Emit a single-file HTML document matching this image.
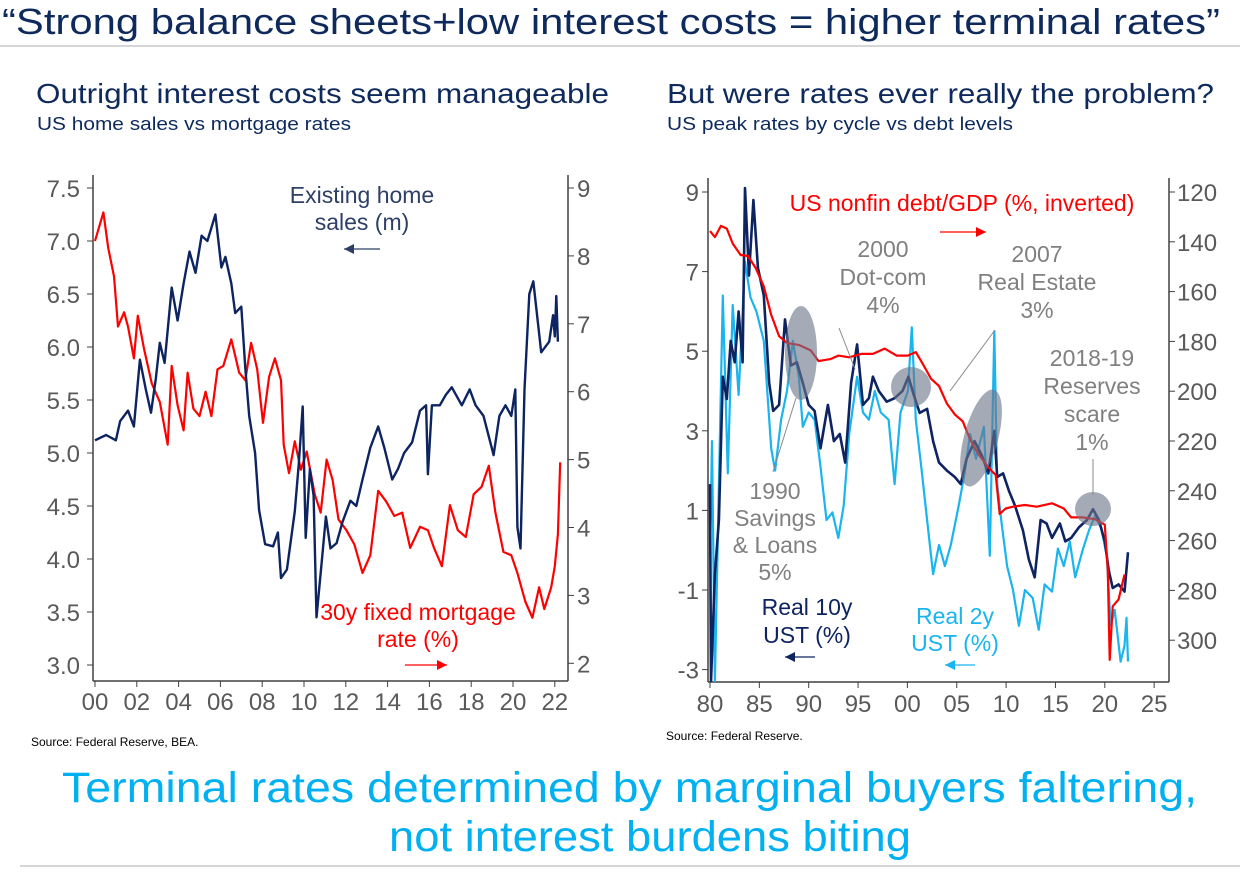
<!DOCTYPE html>
<html><head><meta charset="utf-8"><style>
body{margin:0;background:#fff;}
svg{display:block;font-family:"Liberation Sans",Arial,sans-serif;}
</style></head><body>
<svg id="s" width="1246" height="878" viewBox="0 0 1246 878">
<text x="2" y="34" font-size="36" fill="#0e2a5c" textLength="1218" lengthAdjust="spacingAndGlyphs">“Strong balance sheets+low interest costs = higher terminal rates”</text>
<line x1="0" y1="46" x2="1240" y2="46" stroke="#c8c8c8" stroke-width="1.5"/>
<text x="36" y="103" font-size="28" fill="#0e2a5c" textLength="573" lengthAdjust="spacingAndGlyphs">Outright interest costs seem manageable</text>
<text x="37" y="130" font-size="18" fill="#0e2a5c" textLength="314" lengthAdjust="spacingAndGlyphs">US home sales vs mortgage rates</text>
<text x="667" y="103" font-size="28" fill="#0e2a5c" textLength="547" lengthAdjust="spacingAndGlyphs">But were rates ever really the problem?</text>
<text x="667" y="130" font-size="18" fill="#0e2a5c" textLength="346" lengthAdjust="spacingAndGlyphs">US peak rates by cycle vs debt levels</text>
<text x="31" y="746" font-size="12" fill="#000">Source: Federal Reserve, BEA.</text>
<text x="666" y="740" font-size="12" fill="#000">Source: Federal Reserve.</text>
<text x="62" y="802" font-size="43" fill="#00b0f0" textLength="1135" lengthAdjust="spacingAndGlyphs">Terminal rates determined by marginal buyers faltering,</text>
<text x="389" y="851" font-size="43" fill="#00b0f0" textLength="522" lengthAdjust="spacingAndGlyphs">not interest burdens biting</text>
<line x1="20" y1="866" x2="1240" y2="866" stroke="#c8c8c8" stroke-width="1.5"/>
<g id="L"></g>
<g id="R"></g>
</svg>
<script>
// ---- Left chart data ----
const salesYears=[0,0.53,1,1.2,1.58,1.86,2.15,2.43,2.68,2.91,3.1,3.33,3.67,3.95,4.24,4.52,4.81,5.1,5.38,5.76,6.05,6.24,6.52,6.71,7,7.19,7.38,7.66,7.85,8.14,8.52,8.75,8.9,9.18,9.56,9.75,9.94,10.08,10.28,10.46,10.6,10.86,11.05,11.27,11.56,11.84,12.22,12.5,12.8,13.17,13.55,13.84,14.22,14.5,14.79,15.17,15.55,15.84,15.93,16.12,16.5,16.79,17.07,17.55,17.93,18.21,18.59,19.07,19.35,19.64,19.92,20.11,20.21,20.36,20.55,20.78,20.97,21.35,21.73,21.92,22,22.07,22.15];
const salesValues=[5.12,5.17,5.12,5.3,5.4,5.25,5.88,5.6,5.38,5.7,6.04,5.85,6.56,6.25,6.6,6.9,6.7,7.05,7.0,7.25,6.75,6.85,6.6,6.32,6.38,5.8,5.35,5.0,4.46,4.14,4.12,4.25,3.82,3.9,4.45,4.9,5.44,4.2,4.85,4.6,3.45,4.0,4.4,4.1,4.15,4.35,4.55,4.5,4.75,5.05,5.25,5.05,4.75,4.85,5.0,5.1,5.4,5.45,4.8,5.45,5.45,5.55,5.62,5.45,5.6,5.45,5.35,4.98,5.35,5.45,5.35,5.6,4.3,4.1,5.6,6.5,6.62,5.95,6.05,6.3,6.1,6.48,6.05];
const mortYears=[0,0.4,0.63,0.91,1.1,1.39,1.58,1.86,2.05,2.34,2.72,3.1,3.48,3.67,3.95,4.24,4.43,4.71,5,5.29,5.57,5.86,6.14,6.52,6.9,7.19,7.47,7.76,8.04,8.33,8.61,8.9,9.03,9.28,9.56,9.85,10.13,10.51,10.8,11.08,11.37,11.65,12.03,12.41,12.8,13.17,13.55,13.94,14.32,14.7,15.08,15.55,15.93,16.22,16.6,16.98,17.36,17.74,18.12,18.5,18.84,19.16,19.54,19.92,20.21,20.59,20.93,21.25,21.5,21.83,22,22.15,22.26];
const mortValues=[8.22,8.64,8.12,7.7,6.96,7.17,6.96,6.49,7.12,6.64,6.12,5.85,5.22,6.38,5.8,5.43,6.28,5.75,5.64,6.0,5.64,6.33,6.38,6.77,6.28,6.17,6.72,6.33,5.54,6.22,6.49,6.17,5.22,4.8,5.27,4.85,5.12,4.49,4.22,5.0,4.7,4.12,3.96,3.75,3.33,3.59,4.54,4.38,4.17,4.22,3.7,4.01,3.96,3.7,3.43,4.33,3.96,3.86,4.49,4.6,4.91,4.22,3.64,3.59,3.33,2.91,2.67,3.12,2.8,3.12,3.43,3.9,4.96];
const leftXTicks=["00","02","04","06","08","10","12","14","16","18","20","22"];
const leftYTicks=["7.5","7.0","6.5","6.0","5.5","5.0","4.5","4.0","3.5","3.0"];
const leftY2Ticks=["9","8","7","6","5","4","3","2"];
// ---- Right chart data ----
const r10Years=[80,80.1,80.5,80.9,81.3,81.7,82.1,82.5,82.9,83.3,83.55,83.95,84.4,84.85,85.45,86,86.4,87,87.6,88.2,88.8,89.4,90,90.6,91.2,91.95,92.55,93.15,93.7,94.3,94.9,95.5,96.1,96.5,97.1,97.9,98.7,99.5,100.1,100.65,101.25,102,102.6,103.2,104,104.8,105.4,106,106.8,107.55,108.2,108.8,109.1,109.7,110.3,110.9,111.7,112.3,112.9,113.5,114.1,114.65,115.45,116,116.6,117.4,118.2,118.8,119.4,120,120.4,120.8,121.4,122,122.35];
const r10Values=[1.66,-3.3,-0.6,0.76,4.36,3.8,5.26,4.72,6.0,4.72,9.1,6.9,8.8,7.1,6.4,4.2,3.5,3.65,5.8,4.64,4.72,4.2,3.65,3.5,2.56,3.65,2.74,2.92,2.2,4.2,5.17,3.65,3.82,4.36,4.0,3.73,3.82,4.0,4.36,3.9,3.45,3.55,2.74,2.2,2.0,1.84,1.66,2.3,2.74,2.38,1.93,3.0,1.84,1.93,1.48,1.12,0.5,-0.23,-0.68,0.76,0.67,0.31,0.67,0.22,0.31,0.58,0.76,1.03,0.76,0.22,-0.5,-0.95,-0.86,-1.04,-0.05];
const r2Years=[80,80.2,80.5,80.9,81.3,81.8,82.3,82.9,83.55,84.1,84.7,85.45,86.2,86.6,87.2,87.8,88.4,89,89.4,90,90.6,91.2,91.8,92.4,93,93.55,94.1,94.9,95.5,96.1,96.7,97.3,98.1,98.7,99.3,100.05,100.45,100.85,101.45,102,102.6,103.2,103.8,104.4,105.2,105.8,106.35,106.95,107.75,108.35,108.8,109.1,109.5,110.1,110.7,111.3,111.9,112.7,113.3,113.9,114.65,115.25,115.85,116.45,117,117.8,118.4,119,119.6,120.2,120.6,121,121.6,122,122.2,122.35];
const r2Values=[-0.14,2.74,-3.3,1.66,6.4,1.93,6.16,3.9,7.25,6.35,6.0,5.26,2.56,2.0,3.28,4.0,5.26,4.36,3.1,3.46,3.28,2.1,0.76,0.95,0.31,1.12,2.92,4.36,3.46,3.28,4.0,3.46,3.28,1.66,3.46,4.0,5.6,3.28,2.0,0.76,-0.6,0.13,-0.4,0.13,1.12,1.93,2.92,2.3,3.1,-0.14,5.5,1.66,0.76,-0.4,-1.0,-1.9,-1.0,-1.2,-2.0,-0.86,-1.04,0.04,-0.4,0.22,-0.68,0.04,0.5,0.85,0.58,-0.14,-1.9,-1.5,-2.8,-2.4,-1.7,-2.8];
const debtYears=[80,80.5,81.1,81.7,82.3,83.1,83.85,84.65,85.45,86.2,87,87.8,89,90.2,91,92.2,93,94.1,95.3,96.5,97.7,98.9,100.05,100.85,101.6,102.4,103.2,104,104.8,105.6,106.35,107.15,107.95,108.55,108.95,109.35,109.95,110.7,111.9,113.1,114.65,115.85,116.6,117.8,119,120,120.3,120.5,120.8,121.4,122];
const debtValues=[135.7,138.1,133.6,134.7,140.7,145.3,145.7,150.7,157.9,169.3,177.9,180.7,181.4,183.6,187.9,187.1,185.7,186.4,185,185,182.9,185.7,185.7,184.3,189.3,195,197.9,205,209.3,212.1,219.3,225,229.3,232.1,233.6,249.3,247.1,246.4,245.7,246.4,245,247.1,250.7,250.7,251.4,253.6,272.1,307.9,286.4,283.6,273.6];
const rightXTicks=["80","85","90","95","00","05","10","15","20","25"];
const rightYTicks=["9","7","5","3","1","-1","-3"];
const rightY2Ticks=["120","140","160","180","200","220","240","260","280","300"];

const NS="http://www.w3.org/2000/svg";
function mk(parent,tag,attrs){const e=document.createElementNS(NS,tag);for(const k in attrs)e.setAttribute(k,attrs[k]);parent.appendChild(e);return e;}
function txt(parent,x,y,s,size,fill,anchor){const t=mk(parent,"text",{x:x,y:y,"font-size":size,fill:fill,"text-anchor":anchor});t.textContent=s;return t;}
function pathD(xs,ys,fx,fy){return xs.map((v,i)=>(i?"L":"M")+fx(v).toFixed(1)+","+fy(ys[i]).toFixed(1)).join("");}
const AX="#404040",TK="#595959";

// ---- Left chart ----
const L=document.getElementById("L");
const lx=y=>95+y*20.9, ly=v=>188+(7.5-v)*106, ly2=v=>188+(9-v)*67.9;
const LT=175,LB=681,LL=93,LR=568;
let a=mk(L,"line",{x1:LL,y1:LT,x2:LL,y2:LB,stroke:AX,"stroke-width":1.5});


a=mk(L,"line",{x1:LR,y1:LT,x2:LR,y2:LB,stroke:AX,"stroke-width":1.5});


a=mk(L,"line",{x1:LL,y1:LB,x2:LR,y2:LB,stroke:AX,"stroke-width":1.5});


leftXTicks.forEach((s,i)=>{const x=lx(i*2);mk(L,"line",{x1:x,y1:LB,x2:x,y2:LB+6,stroke:AX});
const t=txt(L,x,710,s,24,TK,"middle");

});
leftYTicks.forEach(s=>{const y=ly(+s);mk(L,"line",{x1:LL-6,y1:y,x2:LL,y2:y,stroke:AX});
const t=txt(L,80,y+9,s,24,TK,"end");

});
leftY2Ticks.forEach(s=>{const y=ly2(+s);mk(L,"line",{x1:LR,y1:y,x2:LR+6,y2:y,stroke:AX});
const t=txt(L,577,y+9,s,24,TK,"start");

});
let p=mk(L,"path",{d:pathD(mortYears,mortValues,lx,ly2),fill:"none",stroke:"#ff0000","stroke-width":2.2,"stroke-linejoin":"round"});


p=mk(L,"path",{d:pathD(salesYears,salesValues,lx,ly),fill:"none",stroke:"#0d2461","stroke-width":2.4,"stroke-linejoin":"round"});


function label(par,lines,cx,y0,dy,col,name){const g=mk(par,"g",{});lines.forEach((s,i)=>txt(g,cx,y0+i*dy,s,23,col,"middle"));return g;}
function arrow(par,x1,x2,y,col,name){const g=mk(par,"g",{});mk(g,"line",{x1:x1,y1:y,x2:x2,y2:y,stroke:col,"stroke-width":1.2});const d=x2>x1?1:-1;mk(g,"polygon",{points:`${x2},${y} ${x2-d*10},${y-5} ${x2-d*10},${y+5}`,fill:col});}
label(L,["Existing home","sales (m)"],362,203,27,"#2e3f66","home-sales-label");
arrow(L,380,344,249,"#2e3f66","home-sales-axis-arrow");
label(L,["30y fixed mortgage","rate (%)"],418,620,27,"#ff0000","mortgage-label");
arrow(L,405,447,665,"#ff0000","mortgage-axis-arrow");

// ---- Right chart ----
const R=document.getElementById("R");
const rx=y=>710+(y-80)*9.87, ry=v=>192+(9-v)*39.8, ry2=v=>192+(v-120)*2.49;
const RT=178,RB=682,RL=708,RR=1169;
a=mk(R,"line",{x1:RL,y1:RT,x2:RL,y2:RB,stroke:AX,"stroke-width":1.5});


a=mk(R,"line",{x1:RR,y1:RT,x2:RR,y2:RB,stroke:AX,"stroke-width":1.5});


a=mk(R,"line",{x1:RL,y1:RB,x2:RR,y2:RB,stroke:AX,"stroke-width":1.5});


rightXTicks.forEach((s,i)=>{const x=rx(80+i*5);mk(R,"line",{x1:x,y1:RB,x2:x,y2:RB+6,stroke:AX});
const t=txt(R,x,712,s,24,TK,"middle");

});
rightYTicks.forEach(s=>{const y=ry(+s);mk(R,"line",{x1:RL-6,y1:y,x2:RL,y2:y,stroke:AX});
const t=txt(R,699,y+9,s,24,TK,"end");

});
rightY2Ticks.forEach(s=>{const y=ry2(+s);mk(R,"line",{x1:RR,y1:y,x2:RR+6,y2:y,stroke:AX});
const t=txt(R,1177,y+9,s,24,TK,"start");

});
const clip=mk(R,"clipPath",{id:"rc"});mk(clip,"rect",{x:RL,y:RT,width:RR-RL,height:RB-RT});
const pg=mk(R,"g",{"clip-path":"url(#rc)"});


p=mk(pg,"path",{d:pathD(r2Years,r2Values,rx,ry),fill:"none",stroke:"#1ab4ee","stroke-width":2.2,"stroke-linejoin":"round"});


p=mk(pg,"path",{d:pathD(r10Years,r10Values,rx,ry),fill:"none",stroke:"#0d2461","stroke-width":2.6,"stroke-linejoin":"round"});


p=mk(pg,"path",{d:pathD(debtYears,debtValues,rx,ry2),fill:"none",stroke:"#ff0000","stroke-width":2.2,"stroke-linejoin":"round"});


const ef="rgba(110,118,138,0.62)";
let e=mk(R,"ellipse",{cx:801,cy:353,rx:16,ry:47,fill:ef});


e=mk(R,"ellipse",{cx:911,cy:387,rx:20,ry:20,fill:ef});


e=mk(R,"ellipse",{cx:981,cy:438,rx:17,ry:50,fill:ef,transform:"rotate(15 981 438)"});


e=mk(R,"ellipse",{cx:1093,cy:509,rx:18,ry:17,fill:ef});


[[773,472,796,398],[839,328,855,369],[995,330,950,391],[1093,459,1093,495]].forEach(l=>{const ln=mk(R,"line",{x1:l[0],y1:l[1],x2:l[2],y2:l[3],stroke:"#8a8a8a","stroke-width":1});

});
label(R,["US nonfin debt/GDP (%, inverted)"],962,211,27,"#ff0000","debt-gdp-label");
arrow(R,940,986,232,"#ff0000","debt-axis-arrow");
label(R,["2000","Dot-com","4%"],883,257,28,"#808080","annotation-2000");
label(R,["2007","Real Estate","3%"],1037,262,28,"#808080","annotation-2007");
label(R,["2018-19","Reserves","scare","1%"],1092,366,28,"#808080","annotation-2018");
label(R,["1990","Savings","& Loans","5%"],775,499,27,"#808080","annotation-1990");
label(R,["Real 10y","UST (%)"],807,615,28,"#0d2461","real-10y-label");
arrow(R,815,785,657,"#0d2461","real-10y-axis-arrow");
label(R,["Real 2y","UST (%)"],955,624,27,"#1ab4ee","real-2y-label");
arrow(R,975,945,665,"#1ab4ee","real-2y-axis-arrow");
</script>
</body></html>
